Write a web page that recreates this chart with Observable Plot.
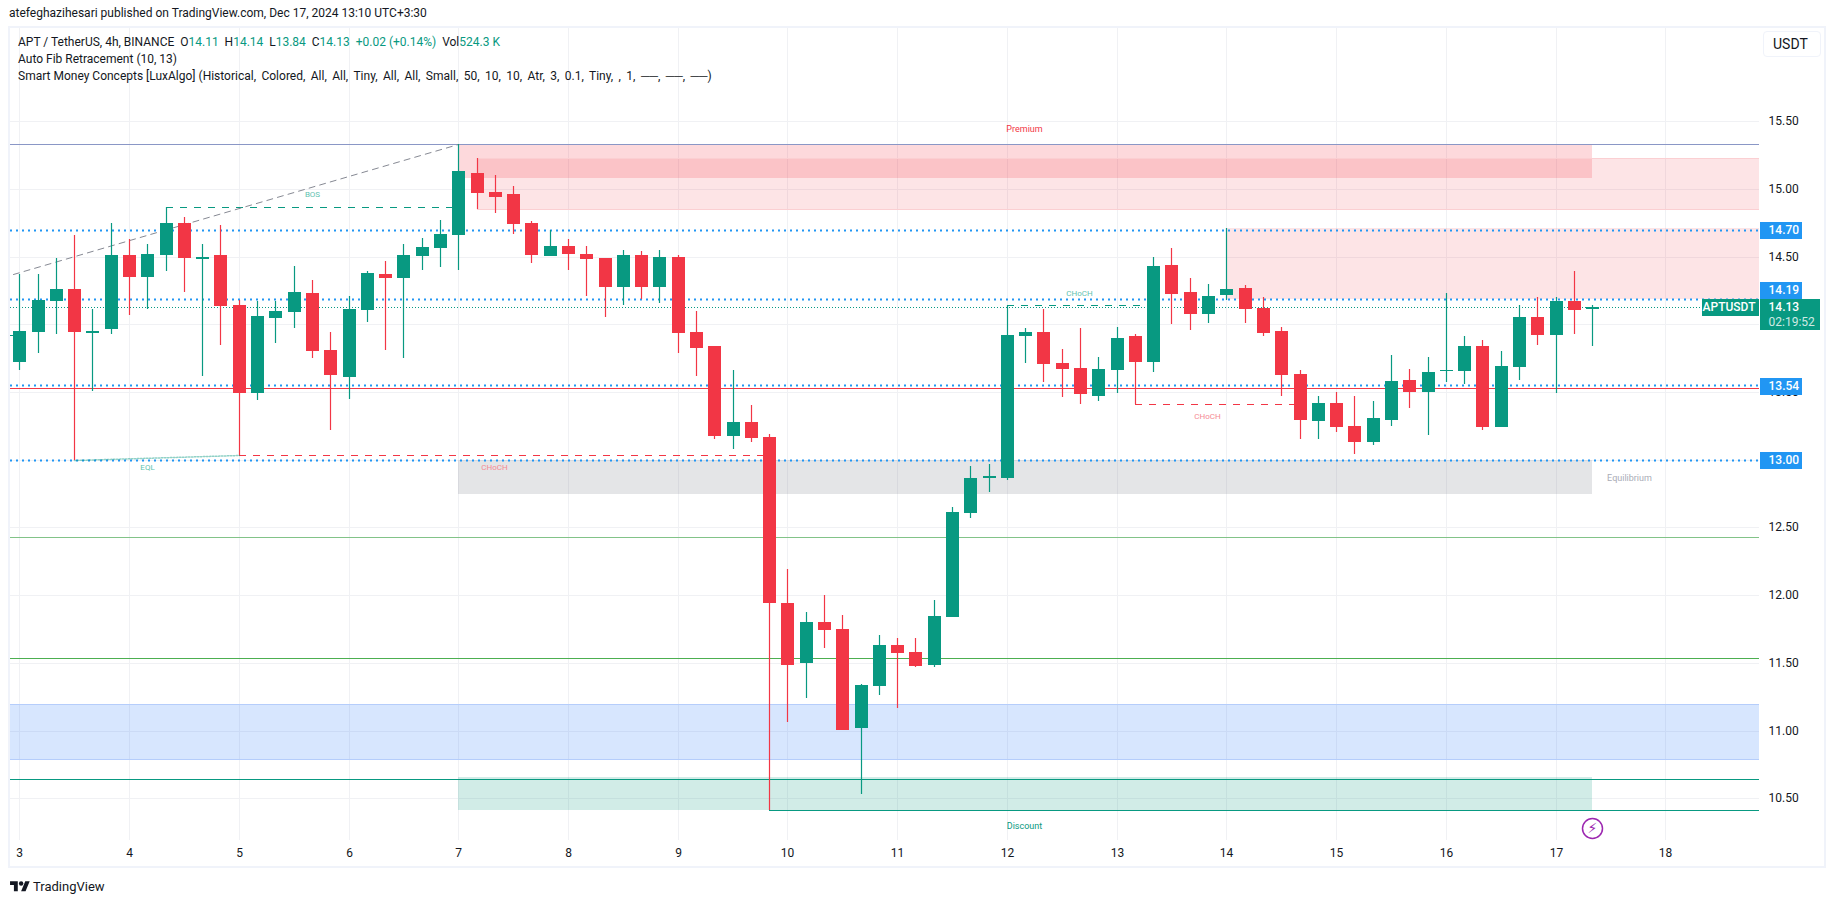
<!DOCTYPE html>
<html><head><meta charset="utf-8">
<script src="https://cdn.jsdelivr.net/npm/d3@7"></script>
<script src="https://cdn.jsdelivr.net/npm/@observablehq/plot@0.6"></script>
<style>
html,body{margin:0;padding:0;background:#fff;width:1835px;height:903px;overflow:hidden;font-family:Roboto,sans-serif;color:#131722}
.abs{position:absolute;white-space:pre;font-size:12px;line-height:14px}
#frame{position:absolute;left:8px;top:26px;width:1814px;height:838px;border:2px solid #f0f3fa;background:#fff}
#frame svg{display:block}
.v{color:#089981}
.p{word-spacing:2.45px}
#usdt{position:absolute;left:1763px;top:31px;width:58px;height:26px;border:1px solid #f0f3fa;border-radius:4px;box-sizing:border-box;background:#fff;font-size:14px;line-height:24px;padding-left:9px}
</style></head><body>
<div class="abs" style="left:9px;top:6px">atefeghazihesari published on TradingView.com, Dec 17, 2024 13:10 UTC+3:30</div>
<div id="frame"></div>
<div class="abs" style="left:18px;top:35px">APT / TetherUS, 4h, BINANCE  O<span class="v">14.11</span>  H<span class="v">14.14</span>  L<span class="v">13.84</span>  C<span class="v">14.13</span>  <span class="v">+0.02 (+0.14%)</span>  Vol<span class="v">524.3 K</span></div>
<div class="abs" style="left:18px;top:52px">Auto Fib Retracement (10, 13)</div>
<div class="abs" style="left:18px;top:69px">Smart Money Concepts [LuxAlgo] <span class="p">(Historical, Colored, All, All, Tiny, All, All, Small, 50, 10, 10, Atr, 3, 0.1, Tiny, , 1, ──, ──, ──)</span></div>
<div id="usdt">USDT</div>
<svg style="position:absolute;left:10px;top:879px" width="20" height="15.5" viewBox="0 0 36 28"><path fill="#131722" d="M14 22H7V11H0V4h14v18zM28 22h-8l7.5-18h8L28 22z"/><circle fill="#131722" cx="20" cy="8" r="4"/></svg>
<div class="abs" style="left:33px;top:879px;font-size:13px;line-height:16px">TradingView</div>
<script>
// Candle series, 4h bars starting at day 3 00:00
const firstDay = 3, barsPerDay = 6;
const opens = [13.722,13.944,14.173,14.262,13.937,13.966,14.513,14.350,14.513,14.749,14.486,14.513,14.143,13.493,14.047,14.092,14.232,13.811,13.612,14.106,14.372,14.343,14.505,14.564,14.660,15.118,14.978,14.963,14.749,14.505,14.579,14.520,14.490,14.276,14.513,14.276,14.498,13.944,13.841,13.176,13.279,13.168,11.942,11.499,11.802,11.750,11.019,11.329,11.632,11.581,11.485,11.839,12.607,12.863,12.866,13.914,13.944,13.715,13.678,13.471,13.663,13.914,13.722,14.439,14.239,14.077,14.217,14.269,14.121,13.951,13.634,13.287,13.420,13.250,13.132,13.294,13.589,13.501,13.656,13.656,13.841,13.242,13.685,14.055,13.922,14.173,14.11];
const highs = [14.372,14.372,14.490,14.660,14.114,14.749,14.631,14.594,14.865,14.793,14.594,14.734,14.180,14.173,14.173,14.431,14.328,13.944,14.210,14.394,14.468,14.594,14.638,14.771,15.330,15.229,15.103,15.022,14.764,14.697,14.631,14.579,14.490,14.550,14.542,14.550,14.513,14.099,13.841,13.663,13.405,13.190,12.194,11.876,12.002,11.854,11.344,11.706,11.684,11.684,11.965,12.651,12.954,12.969,14.141,13.974,14.114,13.818,13.974,13.759,13.981,13.929,14.498,14.564,14.343,14.298,14.712,14.291,14.202,13.981,13.663,13.471,13.501,13.471,13.434,13.774,13.671,13.759,14.232,13.914,13.885,13.804,14.143,14.202,14.202,14.394,14.14];
const lows = [13.663,13.789,13.929,12.999,13.508,13.929,14.069,14.114,14.394,14.239,13.619,13.848,13.033,13.442,13.863,13.973,13.752,13.220,13.449,14.018,13.811,13.752,14.402,14.424,14.402,14.852,14.823,14.668,14.454,14.505,14.402,14.210,14.055,14.143,14.188,14.158,13.789,13.619,13.154,13.080,13.132,10.414,11.064,11.241,11.610,11.004,10.532,11.263,11.167,11.470,11.470,11.839,12.570,12.762,12.851,13.715,13.575,13.464,13.412,13.434,13.493,13.410,13.649,14.003,13.959,14.010,14.180,14.010,13.914,13.471,13.154,13.154,13.205,13.043,13.109,13.250,13.383,13.183,13.575,13.560,13.220,13.242,13.589,13.848,13.493,13.929,13.84];
const closes = [13.951,14.180,14.262,13.944,13.951,14.513,14.350,14.520,14.749,14.490,14.500,14.136,13.493,14.062,14.099,14.239,13.804,13.626,14.114,14.380,14.343,14.513,14.572,14.668,15.133,14.970,14.941,14.742,14.513,14.579,14.520,14.483,14.276,14.513,14.276,14.498,13.937,13.826,13.176,13.279,13.161,11.942,11.485,11.802,11.743,11.004,11.337,11.632,11.573,11.477,11.846,12.614,12.866,12.877,13.922,13.944,13.708,13.671,13.486,13.671,13.900,13.722,14.431,14.225,14.077,14.210,14.262,14.114,13.937,13.626,13.294,13.420,13.242,13.132,13.309,13.582,13.501,13.649,13.665,13.841,13.242,13.693,14.055,13.922,14.173,14.106,14.13];

const lastDay = firstDay + (opens.length - 1) / barsPerDay;
const candles = opens.map((o, i) => ({day: firstDay + i / barsPerDay, o, h: highs[i], l: lows[i], c: closes[i]}));
const bull = "#089981", bear = "#f23645", tagBlue = "#2196f3";
const colorOf = d => d.c >= d.o ? bull : bear;

const dayTicks = [3,4,5,6,7,8,9,10,11,12,13,14,15,16,17,18];
const priceGrid = [10.5,11,11.5,12,12.5,13,13.5,14,14.5,15,15.5];
const priceLabels = [10.5,11,11.5,12,12.5,13.5,14.5,15,15.5];
const domainX = [2.9152, 18.854], domainY = [10.192, 16.189];

// Zones
const zones = [
  {x1:7, x2:lastDay, y1:15.33, y2:15.081, fill:"rgba(242,54,69,0.19)"},
  {x1:7.167, x2:domainX[1], y1:15.229, y2:14.852, fill:"rgba(242,54,69,0.134)"},
  {x1:14, x2:domainX[1], y1:14.712, y2:14.185, fill:"rgba(242,54,69,0.134)"},
  {x1:7, x2:lastDay, y1:13.0, y2:12.747, fill:"rgba(120,123,134,0.2)"},
  {x1:domainX[0], x2:domainX[1], y1:11.194, y2:10.793, fill:"rgba(41,120,250,0.19)"},
  {x1:7, x2:lastDay, y1:10.657, y2:10.414, fill:"rgba(8,153,129,0.19)"}
];
const zoneEdges = [
  {x1:7.167, x2:domainX[1], y:15.229, stroke:"#fbcfd2"},
  {x1:7.167, x2:domainX[1], y:14.852, stroke:"#fbcfd2"},
  {x1:domainX[0], x2:domainX[1], y:11.194, stroke:"#b5cdfb"},
  {x1:domainX[0], x2:domainX[1], y:10.793, stroke:"#b5cdfb"}
];
// Solid levels
const solidLevels = [
  {y:15.33, x1:domainX[0], x2:domainX[1], stroke:"#8a97c6"},
  {y:13.533, x1:domainX[0], x2:domainX[1], stroke:"#f23645"},
  {y:12.427, x1:domainX[0], x2:domainX[1], stroke:"#82c388"},
  {y:11.534, x1:domainX[0], x2:domainX[1], stroke:"#4caf50"},
  {y:10.64, x1:domainX[0], x2:domainX[1], stroke:"#089981"},
  {y:10.414, x1:firstDay + 41/6, x2:domainX[1], stroke:"#089981"},
  {y:13.922, x1:domainX[0], x2:2.943, stroke:"#089981"}
];
const blueLevels = [14.70, 14.19, 13.551, 13.0];
const dashedLevels = [
  {y:14.864, x1:firstDay + 8/6, x2:7, stroke:bull},
  {y:13.033, x1:firstDay + 12/6, x2:firstDay + 41/6, stroke:bear},
  {y:14.141, x1:12, x2:firstDay + 62/6, stroke:bull},
  {y:13.41, x1:firstDay + 61/6, x2:firstDay + 70/6, stroke:bear}
];
const fibLine = [{x:2.943, y:14.372}, {x:7, y:15.33}];
const eqlLine = [{x:firstDay + 3/6, y:12.999}, {x:5, y:13.033}];

const labels = [
  {x:5.665, y:14.961, text:"BOS", fill:"#5fc3b0"},
  {x:4.161, y:12.944, text:"EQL", fill:"#5fc3b0"},
  {x:7.329, y:12.944, text:"CHoCH", fill:"#f58a93"},
  {x:12.66, y:14.23, text:"CHoCH", fill:"#5fc3b0"},
  {x:13.827, y:13.321, text:"CHoCH", fill:"#f58a93"}
];
const zoneLabels = [
  {x:12.156, y:15.445, text:"Premium", fill:"#f23645"},
  {x:17.672, y:12.868, text:"Equilibrium", fill:"#a9acb6"},
  {x:12.156, y:10.296, text:"Discount", fill:"#089981"}
];
const blueTags = [
  {y:14.70, text:"14.70"},
  {y:14.252, text:"14.19"},
  {y:13.543, text:"13.54"},
  {y:12.996, text:"13.00"}
];

const chart = Plot.plot({
  width: 1814, height: 838,
  marginLeft: 0, marginRight: 65, marginTop: 0, marginBottom: 26,
  style: {fontFamily: "Roboto, sans-serif", background: "#fff", overflow: "visible"},
  x: {domain: domainX, round: true},
  y: {domain: domainY, round: true},
  marks: [
    Plot.gridX(dayTicks, {stroke: "#f0f1f4", strokeOpacity: 1}),
    Plot.gridY(priceGrid, {stroke: "#f0f1f4", strokeOpacity: 1}),
    Plot.rect(zones, {x1:"x1", x2:"x2", y1:"y1", y2:"y2", fill:"fill"}),
    Plot.ruleY(zoneEdges, {y:"y", x1:"x1", x2:"x2", stroke:"stroke"}),
    Plot.ruleY(solidLevels, {y:"y", x1:"x1", x2:"x2", stroke:"stroke", strokeWidth: 1}),
    Plot.ruleY(blueLevels, {stroke: tagBlue, strokeWidth: 2, strokeDasharray: "2,4", x1: domainX[0], x2: domainX[1]}),
    Plot.ruleY([closes[closes.length-1]], {stroke: bull, strokeWidth: 1, strokeDasharray: "1,2", x1: domainX[0], x2: domainX[1]}),
    Plot.ruleY(dashedLevels, {y:"y", x1:"x1", x2:"x2", stroke:"stroke", strokeDasharray:"7,7"}),
    Plot.line(fibLine, {x:"x", y:"y", stroke:"#868993", strokeWidth:1, strokeDasharray:"6,5"}),
    Plot.line(eqlLine, {x:"x", y:"y", stroke:bull, strokeOpacity:0.45, strokeWidth:1.5, strokeDasharray:"1.5,1.5"}),
    // candles
    Plot.ruleX(candles, {x:"day", y1:"l", y2:"h", stroke:colorOf, strokeWidth:1.2}),
    Plot.ruleX(candles, {x:"day", y1:"o", y2:"c", stroke:colorOf, strokeWidth:13}),
    // annotation text
    Plot.text(labels, {x:"x", y:"y", text:"text", fill:"fill", fontSize:8}),
    Plot.text(zoneLabels, {x:"x", y:"y", text:"text", fill:"fill", fontSize:9}),
    // axes
    Plot.axisX({anchor:"bottom", ticks: dayTicks, tickFormat: String, tickSize:0, tickPadding:8, fontSize:12, label:null, color:"#131722"}),
    Plot.axisY({anchor:"right", ticks: priceLabels, tickFormat: d3.format(".2f"), tickSize:0, tickPadding:9, fontSize:12, label:null, color:"#131722"}),
    // price tags
    Plot.ruleY(blueTags, {y:"y", x1:18.863, x2:19.246, stroke:tagBlue, strokeWidth:17}),
    Plot.ruleY([14.125], {x1:18.335, x2:18.854, stroke:bull, strokeWidth:17}),
    Plot.ruleY([14.0735], {x1:18.863, x2:19.41, stroke:bull, strokeWidth:31}),
    Plot.text(blueTags, {y:"y", text:"text", frameAnchor:"right", textAnchor:"start", dx:9, fill:"#fff", fontSize:12, fontWeight:500}),
    Plot.text(["APTUSDT"], {y:14.125, text:d=>d, frameAnchor:"right", textAnchor:"end", dx:-4, fill:"#fff", fontSize:12, fontWeight:500}),
    Plot.text(["14.13"], {y:14.125, text:d=>d, frameAnchor:"right", textAnchor:"start", dx:9, fill:"#fff", fontSize:12, fontWeight:500}),
    Plot.text(["02:19:52"], {y:14.02, text:d=>d, frameAnchor:"right", textAnchor:"start", dx:9, fill:"#cfeae4", fontSize:12}),
    // lightning badge
    Plot.dot([{x:lastDay, y:10.283}], {x:"x", y:"y", r:10, stroke:"#9c27b0", strokeWidth:1.5, fill:"#fff"}),
    Plot.text([{x:lastDay, y:10.283}], {x:"x", y:"y", text:()=>"⚡", fill:"#9c27b0", fontSize:14, fontFamily:"DejaVu Sans"})
  ]
});
document.getElementById("frame").appendChild(chart);
</script>
</body></html>
